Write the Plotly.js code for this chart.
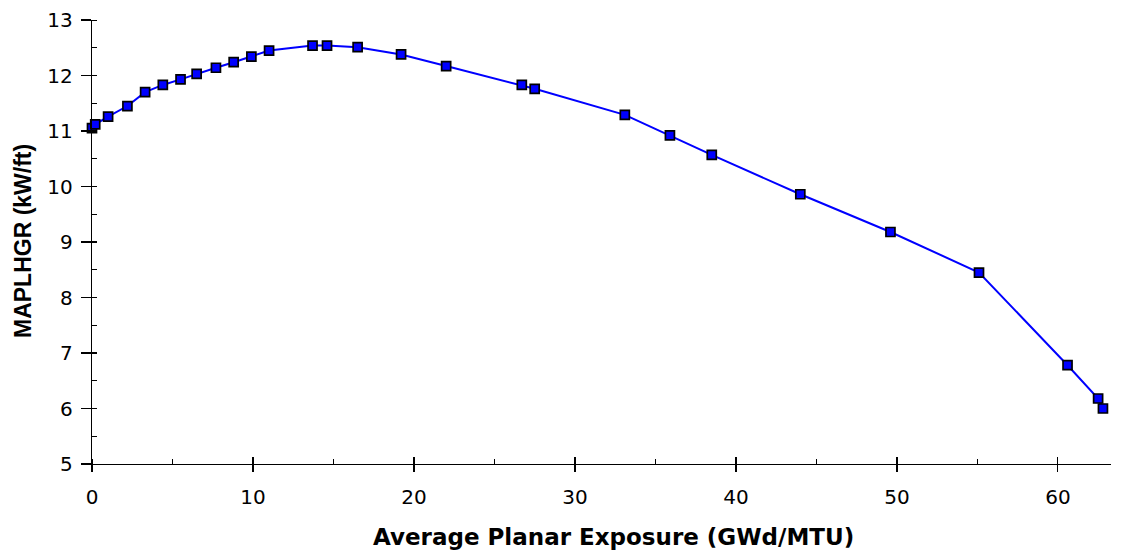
<!DOCTYPE html>
<html>
<head>
<meta charset="utf-8">
<script src="https://cdn.plot.ly/plotly-3.0.1.min.js"></script>
<style>html,body{margin:0;padding:0;background:#fff;}#chart{width:1133px;height:556px;}</style>
</head>
<body>
<div id="chart"></div>
<script>
const exposure = [0.0, 0.2, 1.0, 2.2, 3.3, 4.4, 5.5, 6.5, 7.7, 8.8, 9.9, 11.0, 13.7, 14.6, 16.5, 19.2, 22.0, 26.7, 27.5, 33.1, 35.9, 38.5, 44.0, 49.6, 55.1, 60.6, 62.5, 62.8];
const maplhgr  = [11.05, 11.12, 11.26, 11.45, 11.70, 11.83, 11.93, 12.03, 12.14, 12.24, 12.34, 12.45, 12.54, 12.54, 12.51, 12.38, 12.17, 11.83, 11.76, 11.29, 10.92, 10.57, 9.86, 9.18, 8.45, 6.78, 6.18, 6.00];
const xTitle = 'Average Planar Exposure (GWd/MTU)';
const yTitle = 'MAPLHGR (kW/ft)';

const TICKFONT = 'DejaVu Sans, Arial, sans-serif';
const TITLEFONT_X = 'DejaVu Sans, Arial, sans-serif';
const TITLEFONT_Y = 'Liberation Sans, Arial, sans-serif';
const xr = [0, 63.3], yr = [5, 13];

const traces = [
  {
    x: exposure, y: maplhgr, type: 'scatter', mode: 'lines+markers',
    line: {color: '#0000FF', width: 2},
    marker: {symbol: 'square', size: 9, color: '#0000FF', line: {color: '#000000', width: 1.7}},
    hoverinfo: 'x+y', showlegend: false, cliponaxis: false
  },
  {
    x: exposure, y: maplhgr, xaxis: 'x2', yaxis: 'y2', type: 'scatter', mode: 'markers',
    marker: {opacity: 0}, hoverinfo: 'skip', showlegend: false
  }
];

const layout = {
  width: 1133, height: 556,
  margin: {l: 92, r: 22, t: 20, b: 92},
  paper_bgcolor: '#ffffff', plot_bgcolor: '#ffffff',
  font: {family: TICKFONT, size: 20, color: '#000000'},
  xaxis: {
    range: xr, showgrid: false, zeroline: false,
    showline: true, linecolor: '#000000', linewidth: 1.2,
    tickmode: 'linear', tick0: 0, dtick: 10,
    ticks: 'outside', ticklen: 7, tickwidth: 1.2, tickcolor: '#000000',
    minor: {tickmode: 'linear', tick0: 0, dtick: 5, ticks: 'inside', ticklen: 5, tickwidth: 1, tickcolor: '#000000', showgrid: false},
    tickfont: {family: TICKFONT, size: 20}, ticklabelstandoff: 8
  },
  yaxis: {
    range: yr, showgrid: false, zeroline: false,
    showline: true, linecolor: '#000000', linewidth: 1.2,
    tickmode: 'linear', tick0: 5, dtick: 1,
    ticks: 'outside', ticklen: 10, tickwidth: 1.2, tickcolor: '#000000',
    minor: {tickmode: 'linear', tick0: 5, dtick: 0.5, ticks: 'inside', ticklen: 5, tickwidth: 1, tickcolor: '#000000', showgrid: false},
    tickfont: {family: TICKFONT, size: 20}, ticklabelstandoff: 4
  },
  xaxis2: {
    overlaying: 'x', anchor: 'y2', side: 'bottom', range: xr,
    showgrid: false, zeroline: false, showline: false, showticklabels: false,
    tickmode: 'linear', tick0: 0, dtick: 10, ticks: 'inside', ticklen: 7, tickwidth: 1.2, tickcolor: '#000000'
  },
  yaxis2: {
    overlaying: 'y', anchor: 'x2', side: 'left', range: yr,
    showgrid: false, zeroline: false, showline: false, showticklabels: false,
    tickmode: 'linear', tick0: 5, dtick: 1, ticks: 'inside', ticklen: 5, tickwidth: 1.2, tickcolor: '#000000'
  },
  annotations: [
    {text: '<b>' + xTitle + '</b>', xref: 'paper', yref: 'paper', x: 0.512, y: 0, yshift: -58,
     xanchor: 'center', yanchor: 'top', showarrow: false, font: {family: TITLEFONT_X, size: 23, color: '#000'}},
    {text: '<b>' + yTitle + '</b>', xref: 'paper', yref: 'paper', x: 0, xshift: -84, y: 0.5, yshift: 1,
     xanchor: 'left', yanchor: 'middle', textangle: -90, showarrow: false, font: {family: TITLEFONT_Y, size: 23, color: '#000'}}
  ]
};

Plotly.newPlot('chart', traces, layout, {displayModeBar: false, staticPlot: true});
</script>
</body>
</html>
